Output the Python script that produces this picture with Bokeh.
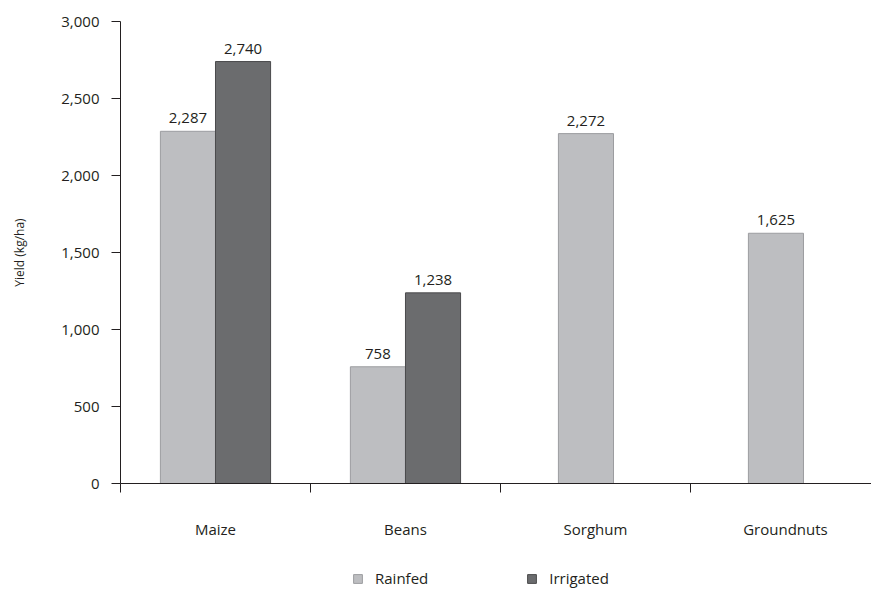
from bokeh.plotting import figure
from bokeh.layouts import column
from bokeh.models import Range1d, FixedTicker, NumeralTickFormatter, Legend, LegendItem, ColumnDataSource, LabelSet
from bokeh.core.properties import value
from bokeh.embed import file_html
from bokeh.resources import INLINE

categories = ["Maize", "Beans", "Sorghum", "Groundnuts"]
rainfed = [2287, 758, 2272, 1625]
irrigated = [2740, 1238, None, None]
y_ticks = [0, 500, 1000, 1500, 2000, 2500, 3000]
series_names = ["Rainfed", "Irrigated"]

FONT = "Open Sans"
TXT = "#231f20"
BAR_W = 0.29
RAIN_FILL, RAIN_LINE = "#bdbec1", "#9c9da0"
IRR_FILL, IRR_LINE = "#6b6c6e", "#4a4a4c"

centers = [i + 0.5 for i in range(len(categories))]
r_x, r_y, r_lab = [], [], []
i_x, i_y, i_lab = [], [], []
for c, rv, iv in zip(centers, rainfed, irrigated):
    if iv is None:
        r_x.append(c - 0.05)
    else:
        r_x.append(c - BAR_W / 2)
        i_x.append(c + BAR_W / 2)
        i_y.append(iv)
        i_lab.append(f"{iv:,}")
    r_y.append(rv)
    r_lab.append(f"{rv:,}")

src_r = ColumnDataSource(dict(x=r_x, top=r_y, lab=r_lab))
src_i = ColumnDataSource(dict(x=i_x, top=i_y, lab=i_lab))

p = figure(frame_width=751, frame_height=462, output_backend="svg", toolbar_location=None,
           x_range=Range1d(0, 3.953), y_range=Range1d(0, 3000),
           min_border_left=120, min_border_top=21, min_border_right=0, min_border_bottom=80)
p.outline_line_color = None
p.xgrid.visible = False
p.ygrid.visible = False
p.background_fill_color = "white"
p.border_fill_color = "white"

p.vbar(x="x", top="top", width=BAR_W, source=src_r, fill_color=RAIN_FILL, line_color=RAIN_LINE, line_width=1)
p.vbar(x="x", top="top", width=BAR_W, source=src_i, fill_color=IRR_FILL, line_color=IRR_LINE, line_width=1)

for src in (src_r, src_i):
    p.add_layout(LabelSet(x="x", y="top", text="lab", source=src, text_align="center",
                          text_baseline="bottom", y_offset=8, text_font=value(FONT),
                          text_font_size=value("15px"), text_color=TXT))

# y axis
ya = p.yaxis[0]
ya.ticker = FixedTicker(ticks=y_ticks)
ya.formatter = NumeralTickFormatter(format="0,0")
ya.major_tick_in = 0
ya.major_tick_out = 9
ya.minor_tick_out = 0
ya.minor_tick_in = 0
ya.axis_line_color = TXT
ya.major_tick_line_color = TXT
ya.major_label_text_font = FONT
ya.major_label_text_font_size = "15px"
ya.major_label_text_color = TXT
ya.major_label_standoff = 12
ya.axis_label = "Yield (kg/ha)"
ya.axis_label_text_font = FONT
ya.axis_label_text_font_size = "12px"
ya.axis_label_text_font_style = "normal"
ya.axis_label_text_color = TXT
ya.axis_label_standoff = 30

# x axis: ticks at category boundaries, labels at category centres
xa = p.xaxis[0]
xa.ticker = FixedTicker(ticks=centers, minor_ticks=list(range(len(categories) + 1)))
xa.major_label_overrides = {c: name for c, name in zip(centers, categories)}
xa.major_tick_out = 0
xa.major_tick_in = 0
xa.minor_tick_out = 9
xa.minor_tick_in = 0
xa.axis_line_color = TXT
xa.minor_tick_line_color = TXT
xa.major_label_text_font = FONT
xa.major_label_text_font_size = "15px"
xa.major_label_text_color = TXT
xa.major_label_standoff = 26

# legend strip below the chart (proxy renderers lie outside its visible range)
lg = figure(frame_width=871, frame_height=29, output_backend="svg", toolbar_location=None,
            x_axis_type=None, y_axis_type=None, x_range=Range1d(0, 1), y_range=Range1d(0, 1),
            min_border_left=0, min_border_right=0, min_border_top=0, min_border_bottom=0)
lg.outline_line_color = None
lg.xgrid.visible = False
lg.ygrid.visible = False
lr = lg.vbar(x=[-5], top=[-5], width=0.1, fill_color=RAIN_FILL, line_color=RAIN_LINE)
li = lg.vbar(x=[-5], top=[-5], width=0.1, fill_color=IRR_FILL, line_color=IRR_LINE)

legend = Legend(items=[LegendItem(label=series_names[0], renderers=[lr]),
                       LegendItem(label=series_names[1], renderers=[li])],
                orientation="horizontal", location=(352, 4),
                glyph_width=11, glyph_height=11, label_standoff=12, spacing=98,
                padding=0, margin=0, border_line_color=None, background_fill_alpha=0,
                label_text_font=FONT, label_text_font_size="15px", label_text_color=TXT)
lg.add_layout(legend, "center")

layout = column(p, lg, spacing=0)
open("out.html", "w").write(file_html(layout, INLINE))
